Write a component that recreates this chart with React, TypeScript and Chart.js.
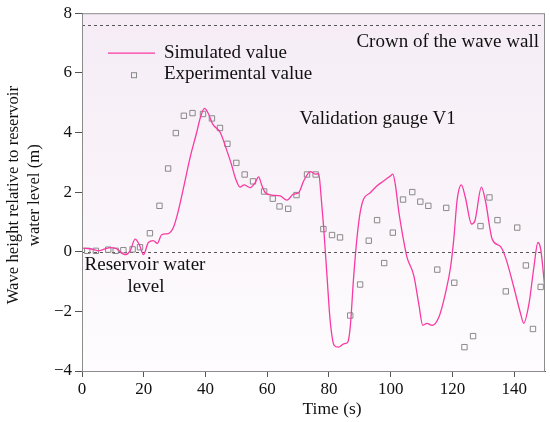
import React, { useEffect, useRef } from 'react';
import { Chart, registerables } from 'chart.js';

Chart.register(...registerables);

// time axis (s) and water height (m)
const xTicks = [0, 20, 40, 60, 80, 100, 120, 140];
const yTicks = [-4, -2, 0, 2, 4, 6, 8];
const crownLevel = 7.6;
const reservoirLevel = 0;

const simTime = [
  0.2, 2.6, 5.3, 9.1, 11.2, 13.9, 15.6, 17.2, 18.6, 19.9, 21.5, 23.1, 24.4, 25.8, 28.0, 29.6,
  31.2, 32.9, 35.0, 37.0, 38.5, 39.7, 40.8, 42.4, 44.8, 46.9, 48.5, 49.6, 51.2, 52.5, 54.5,
  56.1, 57.2, 58.3, 59.4, 61.5, 64.2, 66.4, 68.5, 70.2, 71.8, 74.0, 75.6, 76.7, 77.4, 78.3,
  79.4, 80.4, 81.7, 83.1, 84.8, 86.1, 86.9, 88.0, 89.1, 90.2, 91.2, 93.4, 95.6, 97.7, 99.9,
  100.7, 101.5, 102.6, 104.2, 105.3, 107.5, 109.1, 110.4, 111.8, 113.4, 115.6, 117.7, 119.4,
  120.5, 121.5, 122.9, 124.2, 126.2, 127.3, 129.4, 130.7, 132.9, 135.6, 137.2, 139.9, 142.1,
  143.1, 144.8, 146.4, 147.7, 148.6, 149.7, 150.0,
];
const simHeight = [
  0.12, 0.1, 0.03, 0.14, 0.1, -0.1, 0.03, 0.42, 0.23, -0.1, 0.31, 0.37, 0.28, 0.57, 0.61, 0.81,
  1.37, 2.15, 3.15, 3.94, 4.55, 4.81, 4.66, 4.27, 4.0, 3.4, 2.9, 2.5, 2.17, 2.24, 2.15,
  2.32, 2.51, 2.21, 1.98, 1.9, 1.87, 1.73, 1.93, 1.98, 2.37, 2.69, 2.6, 2.62, 1.93, 0.81,
  -0.86, -2.31, -3.14, -3.2, -3.09, -3.03, -2.53, -0.86, 0.48, 1.37, 1.76, 1.98, 2.21, 2.37, 2.54,
  2.6, 2.26, 1.37, 0.37, -0.19, -0.8, -1.75, -2.47, -2.4, -2.47, -2.2, -1.41, -0.52,
  0.48, 1.71, 2.24, 1.82, 0.93, 1.04, 2.17, 1.71, 0.42, 0.17, -0.19, -1.19, -2.08,
  -2.4, -1.75, -0.52, 0.31, 0.09, -0.97, -1.36,
];

const expTime = [
  1.7, 4.5, 8.5, 10.9, 13.4, 16.4, 18.8, 22.0, 25.1, 27.9, 30.4, 33.0, 35.8, 39.2, 42.1, 44.7,
  47.1, 50.0, 52.7, 55.4, 59.0, 61.8, 64.0, 66.8, 69.5, 72.9, 75.7, 78.2, 81.0, 83.6, 86.9,
  90.1, 92.9, 95.6, 97.9, 100.7, 104.0, 107.0, 109.6, 112.2, 115.1, 118.0, 120.6, 123.9, 126.7,
  129.1, 132.0, 134.6, 137.3, 141.0, 143.8, 146.1, 148.6,
];
const expHeight = [
  0.03, 0.03, 0.07, 0.03, 0.05, 0.08, 0.15, 0.62, 1.54, 2.79, 3.98, 4.56, 4.65, 4.62, 4.47, 4.15,
  3.62, 2.98, 2.59, 2.36, 2.02, 1.78, 1.52, 1.44, 1.9, 2.59, 2.59, 0.76, 0.56, 0.48, -2.14,
  -1.1, 0.37, 1.06, -0.38, 0.64, 1.75, 2.0, 1.68, 1.54, -0.6, 1.47, -1.04, -3.2, -2.83,
  0.86, 1.82, 1.06, -1.33, 0.81, -0.46, -2.59, -1.18,
];

const SERIF = '"Liberation Serif", "Times New Roman", serif';
const PINK = '#f83aa2';
const GREY_MARK = '#8a8a8a';

const decorPlugin = {
  id: 'decor',
  beforeDraw(chart: any) {
    const { ctx, chartArea: a } = chart;
    const g = ctx.createLinearGradient(0, a.top, 0, a.bottom);
    g.addColorStop(0, '#f5ecf5');
    g.addColorStop(1, '#fefcfe');
    ctx.save();
    ctx.fillStyle = g;
    ctx.fillRect(a.left, a.top, a.right - a.left, a.bottom - a.top);
    ctx.restore();
  },
  beforeDatasetsDraw(chart: any) {
    const { ctx, chartArea: a, scales } = chart;
    ctx.save();
    ctx.strokeStyle = '#555';
    ctx.lineWidth = 1;
    ctx.setLineDash([3, 3]);
    [crownLevel, reservoirLevel].forEach((lv) => {
      const y = Math.round(scales.y.getPixelForValue(lv)) + 0.5;
      ctx.beginPath();
      ctx.moveTo(a.left, y);
      ctx.lineTo(a.right, y);
      ctx.stroke();
    });
    ctx.restore();
  },
  afterDatasetsDraw(chart: any) {
    const { ctx, chartArea: a, scales } = chart;
    ctx.save();
    // frame
    ctx.strokeStyle = '#8c8c8c';
    ctx.lineWidth = 1;
    ctx.strokeRect(a.left + 0.5, a.top + 0.5, a.right - a.left - 1, a.bottom - a.top);

    // legend
    ctx.strokeStyle = PINK;
    ctx.lineWidth = 1.3;
    ctx.beginPath();
    ctx.moveTo(a.left + 26, a.top + 40);
    ctx.lineTo(a.left + 73, a.top + 40);
    ctx.stroke();
    ctx.strokeStyle = GREY_MARK;
    ctx.lineWidth = 1;
    ctx.strokeRect(a.left + 49.5, a.top + 59.5, 5, 5);

    ctx.fillStyle = '#111';
    ctx.font = `19px ${SERIF}`;
    ctx.textBaseline = 'middle';
    ctx.textAlign = 'left';
    ctx.fillText('Simulated value', a.left + 82, a.top + 40);
    ctx.fillText('Experimental value', a.left + 82, a.top + 61);

    // annotations
    ctx.textAlign = 'right';
    ctx.fillText('Crown of the wave wall', a.right - 6, scales.y.getPixelForValue(crownLevel) + 17);
    ctx.textAlign = 'left';
    ctx.fillText('Validation gauge V1', scales.x.getPixelForValue(70.5), a.top + 106);
    ctx.textAlign = 'center';
    const yr = scales.y.getPixelForValue(reservoirLevel);
    ctx.fillText('Reservoir water', a.left + 63, yr + 13);
    ctx.fillText('level', a.left + 64, yr + 35);

    // axis titles (x title sits right of centre in the original)
    ctx.font = `17.5px ${SERIF}`;
    ctx.fillText('Time (s)', scales.x.getPixelForValue(81), a.bottom + 38);

    ctx.font = `16.7px ${SERIF}`;
    ctx.translate(0, a.top + 182);
    ctx.rotate(-Math.PI / 2);
    ctx.fillText('Wave height relative to reservoir', 0, 14);
    ctx.fillText('water level (m)', 0, 35);
    ctx.restore();
  },
};

const App: React.FC = () => {
  const chartRef = useRef<HTMLCanvasElement>(null);
  const chartInstanceRef = useRef<Chart | null>(null);

  useEffect(() => {
    document.body.style.margin = '0';
    if (chartRef.current) {
      if (chartInstanceRef.current) {
        chartInstanceRef.current.destroy();
      }
      const ctx = chartRef.current.getContext('2d');
      if (ctx) {
        Chart.defaults.font.family = SERIF;
        Chart.defaults.color = '#111';

        const simPoints = simTime.map((t, i) => ({ x: t, y: simHeight[i] }));
        const expPoints = expTime.map((t, i) => ({ x: t, y: expHeight[i] }));

        chartInstanceRef.current = new Chart(ctx, {
          type: 'line',
          data: {
            datasets: [
              {
                label: 'Simulated value',
                data: simPoints,
                borderColor: PINK,
                borderWidth: 1.3,
                pointRadius: 0,
                cubicInterpolationMode: 'monotone',
                fill: false,
              },
              {
                label: 'Experimental value',
                data: expPoints,
                showLine: false,
                pointStyle: 'rect',
                pointRadius: 3.8,
                pointBorderWidth: 1,
                pointBorderColor: GREY_MARK,
                pointBackgroundColor: 'rgba(255,255,255,0)',
              },
            ],
          },
          options: {
            animation: false,
            responsive: true,
            maintainAspectRatio: false,
            layout: { padding: { top: 12, right: 5, left: 0, bottom: 0 } },
            scales: {
              x: {
                type: 'linear',
                min: 0,
                max: 150,
                afterBuildTicks: (s: any) => {
                  s.ticks = xTicks.map((v) => ({ value: v }));
                },
                afterFit: (s: any) => {
                  s.height = 51;
                },
                grid: { drawOnChartArea: false, tickLength: 6, color: '#555' },
                border: { color: '#555' },
                ticks: { font: { size: 17 }, padding: 2, maxRotation: 0, color: '#111' },
              },
              y: {
                min: -4,
                max: 8,
                afterBuildTicks: (s: any) => {
                  s.ticks = yTicks.map((v) => ({ value: v }));
                },
                afterFit: (s: any) => {
                  s.width = 82;
                },
                grid: { drawOnChartArea: false, tickLength: 7, color: '#555' },
                border: { color: '#555' },
                ticks: {
                  font: { size: 17 },
                  padding: 3,
                  color: '#111',
                  callback: (v: any) => String(v).replace('-', '\u2212'),
                },
              },
            },
            plugins: {
              legend: { display: false },
              tooltip: { enabled: false },
            },
          },
          plugins: [decorPlugin],
        });
      }
    }
    return () => {
      if (chartInstanceRef.current) {
        chartInstanceRef.current.destroy();
        chartInstanceRef.current = null;
      }
    };
  }, []);

  return (
    <div style={{ width: 550, height: 422, position: 'relative' }}>
      <canvas ref={chartRef}></canvas>
    </div>
  );
};

export default App;
